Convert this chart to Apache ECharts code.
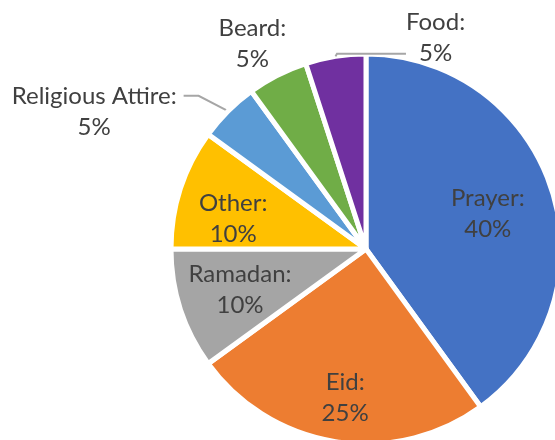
<!DOCTYPE html>
<html>
<head>
<meta charset="utf-8">
<script src="https://cdn.jsdelivr.net/npm/echarts@6/dist/echarts.min.js"></script>
<style>
html, body { margin: 0; padding: 0; background: #fff; }
#main { width: 555px; height: 440px; }
</style>
</head>
<body>
<div id="main"></div>
<script>
// data
var names = ['Prayer', 'Eid', 'Ramadan', 'Other', 'Religious Attire', 'Beard', 'Food'];
var values = [40, 25, 10, 10, 5, 5, 5];
var colors = ['#4472C4', '#ED7D31', '#A5A5A5', '#FFC000', '#5B9BD5', '#70AD47', '#7030A0'];

var cx = 366, cy = 249, R = 195;
var labelR = 192;
// where each label sits: [distance as share of labelR, angle shift from slice middle]
var spot = {
    'Prayer': [0.66, 2],
    'Eid': [0.78, -1],
    'Ramadan': [0.69, 0],
    'Other': [0.71, -5],
    'Religious Attire': [1.625, -15.6],
    'Beard': [1.22, -2],
    'Food': [1.08, 28.6]
};

var total = values.reduce(function (a, b) { return a + b; }, 0);
var midAngle = [];
var acc = 0;
values.forEach(function (v) {
    midAngle.push((acc + v / 2) / total * 360);
    acc += v;
});

var data = names.map(function (n, i) {
    var item = { name: n, value: values[i], itemStyle: { color: colors[i] } };
    if (n === 'Religious Attire') {
        // blank first line so the leader line meets the name line
        item.label = { position: 'outside', formatter: '\n{b}:\n{d}%', padding: [0, 7] };
        item.labelLine = { show: true, length2: 15 };
    } else if (n === 'Food') {
        // blank last line so the leader line meets the percent line
        item.label = { position: 'outside', formatter: '{b}:\n{d}%\n' };
        item.labelLine = { show: true, length2: 69, showAbove: true };
    } else if (n === 'Beard') {
        item.label = { position: 'outside' };
        item.labelLine = { show: false };
    }
    return item;
});

var myChart = echarts.init(document.getElementById('main'));
var option = {
    animation: false,
    series: [{
        type: 'pie',
        center: [cx, cy],
        radius: R,
        startAngle: 90,
        clockwise: true,
        avoidLabelOverlap: false,
        emphasis: { disabled: true },
        itemStyle: { borderColor: '#fff', borderWidth: 5 },
        label: {
            show: true,
            position: 'inside',
            formatter: '{b}:\n{d}%',
            fontFamily: 'Lato',
            fontSize: 24,
            lineHeight: 31,
            color: '#404040'
        },
        labelLine: {
            show: false,
            lineStyle: { color: '#A6A6A6', width: 2 }
        },
        labelLayout: function (params) {
            var i = params.dataIndex;
            var s = spot[names[i]];
            var a = (midAngle[i] + s[1]) * Math.PI / 180;
            return {
                x: cx + s[0] * labelR * Math.sin(a),
                y: cy - s[0] * labelR * Math.cos(a),
                align: 'center',
                verticalAlign: 'middle'
            };
        },
        data: data
    }]
};
myChart.setOption(option);
</script>
</body>
</html>
